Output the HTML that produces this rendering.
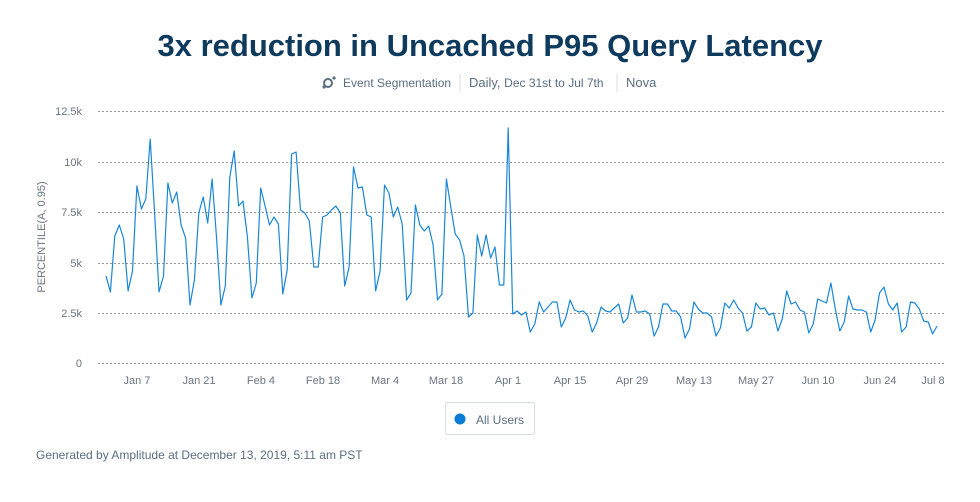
<!DOCTYPE html>
<html><head><meta charset="utf-8"><style>
body{margin:0;background:#fff;width:980px;height:497px;overflow:hidden;font-family:"Liberation Sans",sans-serif}
</style></head><body>
<svg width="980" height="497" xmlns="http://www.w3.org/2000/svg" font-family="Liberation Sans, sans-serif">
<text x="490" y="56" text-anchor="middle" font-size="31" font-weight="bold" fill="#0e3a5e">3x reduction in Uncached P95 Query Latency</text>
<g fill="#5a6f80">
<circle cx="328" cy="83" r="4" fill="none" stroke="#5a6f80" stroke-width="2"/><circle cx="324" cy="87" r="1.6"/><circle cx="334" cy="78" r="1.6"/>
<text x="343" y="87" font-size="12">Event Segmentation</text>
<text x="469" y="87" font-size="13">Daily, <tspan font-size="12">Dec 31st to Jul 7th</tspan></text>
<text x="626" y="87" font-size="13">Nova</text>
</g>
<line x1="460" y1="74" x2="460" y2="92" stroke="#d8dde2"/>
<line x1="617" y1="74" x2="617" y2="92" stroke="#d8dde2"/>
<g stroke="#999" stroke-dasharray="2,2" stroke-width="1">
<line x1="98" y1="111.5" x2="945" y2="111.5"/><line x1="98" y1="162.5" x2="945" y2="162.5"/><line x1="98" y1="212.5" x2="945" y2="212.5"/><line x1="98" y1="263.5" x2="945" y2="263.5"/><line x1="98" y1="313.5" x2="945" y2="313.5"/><line x1="98" y1="363.5" x2="945" y2="363.5"/>
</g>
<g font-size="11" fill="#6b7680" text-anchor="end">
<text x="82" y="115">12.5k</text><text x="82" y="166">10k</text><text x="82" y="216">7.5k</text><text x="82" y="267">5k</text><text x="82" y="317">2.5k</text><text x="82" y="367">0</text>
</g>
<text transform="translate(45,237) rotate(-90)" text-anchor="middle" font-size="11" fill="#6b7680">PERCENTILE(A, 0.95)</text>
<g font-size="11" fill="#6b7680" text-anchor="middle">
<text x="137" y="384">Jan 7</text><text x="199" y="384">Jan 21</text><text x="261" y="384">Feb 4</text><text x="323" y="384">Feb 18</text><text x="385" y="384">Mar 4</text><text x="446" y="384">Mar 18</text><text x="508" y="384">Apr 1</text><text x="570" y="384">Apr 15</text><text x="632" y="384">Apr 29</text><text x="694" y="384">May 13</text><text x="756" y="384">May 27</text><text x="818" y="384">Jun 10</text><text x="880" y="384">Jun 24</text><text x="933" y="384">Jul 8</text>
</g>
<polyline id="ln" fill="none" stroke="#1a86d8" stroke-width="1.2" stroke-linejoin="round" points=""/>
<rect x="445.5" y="402.5" width="89" height="32" fill="#fff" stroke="#d8dde2" rx="2"/>
<circle cx="460" cy="419" r="5.5" fill="#0a7bd4"/>
<text x="476" y="424" font-size="12" fill="#5a6f80">All Users</text>
<text x="36" y="459" font-size="12" fill="#5a6f80">Generated by Amplitude at December 13, 2019, 5:11 am PST</text>
</svg>
<script>
var y=[276,292,236,225,239,291,271,186,209,199,139,213,
292,276,183,203,192,225,238,305,280,213,197,223,179,237,305,286,177,151,206,201,237,298,283,188,206,225,217,224,294,270,154,152,210,213,221,267,267,217,215,210,206,213,286,267,167,188,187,215,217,291,271,185,193,217,207,224,300,293,205,225,231,226,245,300,294,179,207,234,240,256,317,313,235,256,235,258,247,285,285,128,314,311,315,312,
332,324,302,312,307,302,302,327,318,300,310,312,311,316,332,323,307,311,312,308,304,323,318,295,312,312,311,314,336,327,304,304,311,311,317,338,329,302,309,313,313,317,336,328,303,308,300,308,313,331,327,303,309,308,315,313,331,319,291,304,302,310,312,333,324,299,301,303,283,309,331,322,296,309,310,310,312,332,320,293,287,304,310,303,332,327,302,303,309,321,322,334,326];
var n=y.length,p=[];for(var i=0;i<n;i++){p.push((106+i*(937-106)/(n-1)).toFixed(1)+","+y[i]);}
document.getElementById("ln").setAttribute("points",p.join(" "));
</script>
</body></html>
